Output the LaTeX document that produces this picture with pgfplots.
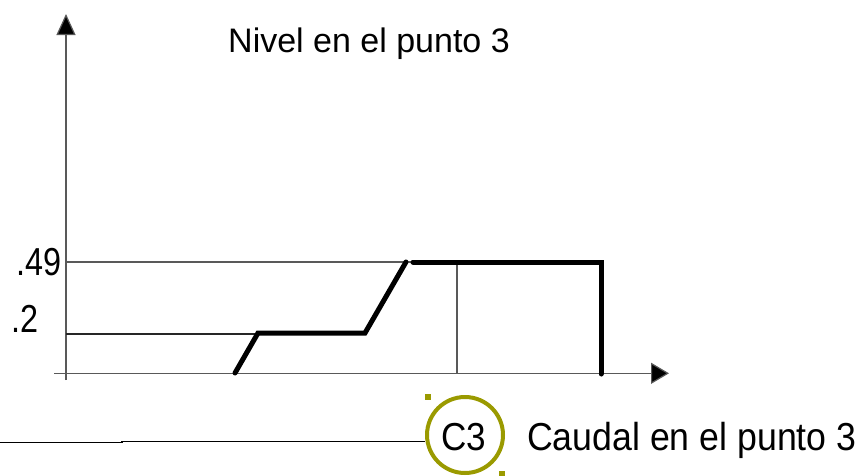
\documentclass[border=0pt]{standalone}
\usepackage{fontspec}
\setmainfont{Liberation Sans}
\usepackage{pgfplots}
\pgfplotsset{compat=1.18}
\usetikzlibrary{arrows.meta}
\definecolor{sel}{HTML}{9A9A00}
\begin{document}
\begin{tikzpicture}
\begin{axis}[name=ax, at={(0,0)}, anchor=south west,
  x=1pt, y=1pt, xmin=0, xmax=861, ymin=0, ymax=475,
  enlargelimits=false, hide axis, clip=true]
  % axes
  \addplot[black!65, line width=1.2pt, -{Triangle[length=21pt,width=19pt,fill=black]}] coordinates {(66,95) (66,461)};
  \addplot[black!65, line width=1.2pt, -{Triangle[length=18pt,width=21pt,fill=black]}] coordinates {(54,101.7) (669,101.7)};
  % guide lines
  \addplot[black!65, line width=1.2pt] coordinates {(66,213) (601,213)};
  \addplot[black!85, line width=1.2pt] coordinates {(66,141) (258,141)};
  \addplot[black!65, line width=1.2pt] coordinates {(457,213) (457,101.7)};
  % level curve
  \addplot[black, line width=5pt, line cap=round, line join=miter] coordinates {(235,102) (258,142) (365,142) (406,213)};
  \addplot[black, line width=5pt, line cap=round, line join=miter] coordinates {(413,213) (601,213) (601,101)};
  % bottom line
  \addplot[black, line width=1.5pt] coordinates {(0,32.7) (122,32.7) (122,33.7) (425,33.7)};
  % C3 circle and handles
  \addplot[only marks, mark=o, mark size=38pt, mark options={draw=sel, line width=4pt}] coordinates {(465,40)};
  \addplot[only marks, mark=square*, mark size=2.6pt, mark options={draw=sel, fill=sel}] coordinates {(428,78.5) (502,1.5)};
  % texts
  \node[anchor=base west, inner sep=0, font=\fontsize{34}{40}\selectfont] at (axis cs:228,423) {Nivel en el punto 3};
  \node[anchor=base west, inner sep=0, xscale=0.83, font=\fontsize{39}{44}\selectfont] at (axis cs:16,200) {.49};
  \node[anchor=base west, inner sep=0, xscale=0.83, font=\fontsize{39}{44}\selectfont] at (axis cs:11,143) {.2};
  \node[anchor=base west, inner sep=0, xscale=0.9, font=\fontsize{39}{44}\selectfont] at (axis cs:441,25) {C3};
  \node[anchor=base west, inner sep=0, xscale=0.915, font=\fontsize{39}{44}\selectfont] at (axis cs:527,25) {Caudal en el punto 3};
\end{axis}
\pgfresetboundingbox
\path[use as bounding box] (ax.south west) rectangle (ax.north east);
\end{tikzpicture}
\end{document}
